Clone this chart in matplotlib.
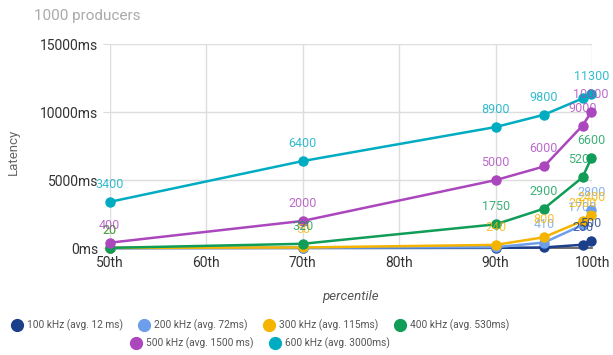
import matplotlib.pyplot as plt
from matplotlib.lines import Line2D

plt.rcParams["font.family"] = ["Roboto", "DejaVu Sans"]

# percentiles measured and latency (ms) for each producer rate
percentiles = [50, 70, 90, 95, 99, 99.9]
series_names = ["100 kHz (avg. 12 ms)", "200 kHz (avg. 72ms)", "300 kHz (avg. 115ms)",
                "400 kHz (avg. 530ms)", "500 kHz (avg. 1500 ms)", "600 kHz (avg. 3000ms)"]
lat_100 = [5, 10, 20, 50, 250, 500]
lat_200 = [10, 30, 70, 410, 1700, 2800]
lat_300 = [20, 50, 240, 800, 2000, 2400]
lat_400 = [20, 320, 1750, 2900, 5200, 6600]
lat_500 = [400, 2000, 5000, 6000, 9000, 10000]
lat_600 = [3400, 6400, 8900, 9800, 11000, 11300]

colors = ["#1c3f8c", "#6d9eeb", "#f4b400", "#0f9d58", "#ab47bc", "#00acc1"]
all_series = [lat_100, lat_200, lat_300, lat_400, lat_500, lat_600]
# points left without a value label (series index, point index)
unlabelled = {(0, 0), (0, 1), (0, 2), (0, 3), (1, 0), (1, 1), (1, 2), (5, 4)}

fig = plt.figure(figsize=(6.13, 3.55), dpi=100)
ax = fig.add_axes([0.179, 0.301, 0.787, 0.575])

for vals, c in zip(all_series, colors):
    ax.plot(percentiles, vals, color=c, lw=1.8, marker="o", ms=6.5, zorder=3,
            clip_on=False)

for i, (vals, c) in enumerate(zip(all_series, colors)):
    for j, (p, v) in enumerate(zip(percentiles, vals)):
        if (i, j) in unlabelled:
            continue
        ax.annotate(str(v), (p, v), xytext=(0, 8), textcoords="offset points",
                    ha="center", va="bottom", color=c, fontsize=9, alpha=0.8,
                    zorder=4)

ax.set_xlim(50, 100)
ax.set_ylim(0, 15000)
ax.set_xticks([50, 60, 70, 80, 90, 100])
ax.set_xticklabels(["50th", "60th", "70th", "80th", "90th", "100th"])
ax.set_yticks([0, 5000, 10000, 15000])
ax.set_yticklabels(["0ms", "5000ms", "10000ms", "15000ms"])
ax.grid(True, color="#dddddd", lw=1)
ax.set_axisbelow(True)
for s in ["top", "right", "left"]:
    ax.spines[s].set_visible(False)
ax.spines["bottom"].set_color("#555555")
ax.spines["bottom"].set_linewidth(1.2)
ax.tick_params(axis="x", length=0, pad=6, labelsize=10, colors="#333333")
ax.tick_params(axis="y", length=5, color="#dddddd", pad=3, labelsize=10,
               colors="#333333")
ax.set_xlabel("percentile", fontstyle="italic", fontsize=9.5, color="#555555",
              labelpad=14)
ax.set_ylabel("Latency", fontsize=9.5, color="#666666")
ax.yaxis.set_label_coords(-0.187, 0.47)

fig.text(0.055, 0.945, "1000 producers", fontsize=11, color="#aaaaaa")

handles = [Line2D([], [], ls="none", marker="o", ms=8.5, color=c) for c in colors]
legend_rows = [(handles[:4], series_names[:4], 0.083),
               (handles[4:], series_names[4:], 0.032)]
for h, names, y in legend_rows:
    leg = fig.legend(h, names, loc="center", bbox_to_anchor=(0.424, y),
                     ncol=len(h), frameon=False, fontsize=7.3,
                     handletextpad=0.4, columnspacing=1.5, handlelength=1.2)
    for t in leg.get_texts():
        t.set_color("#555555")

fig.savefig("out.png", dpi=100)
